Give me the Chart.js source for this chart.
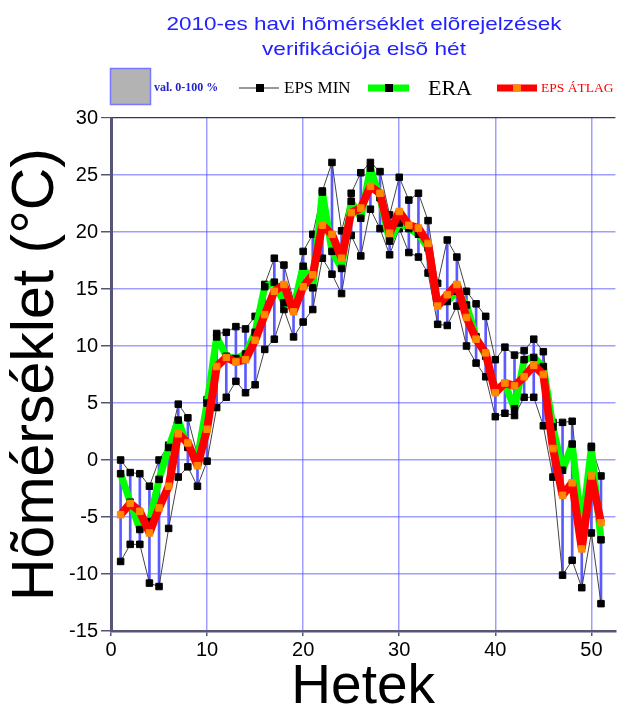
<!DOCTYPE html>
<html><head><meta charset="utf-8">
<script src="https://cdn.jsdelivr.net/npm/chart.js@4.4.1/dist/chart.umd.min.js"></script>
<style>html,body{margin:0;padding:0;background:#fff;overflow:hidden}#wrap{width:621px;height:711px;position:relative}</style>
</head><body><div id="wrap"><canvas id="c" width="621" height="711"></canvas></div>
<script>
const weeks = [1,2,3,4,5,6,7,8,9,10,11,12,13,14,15,16,17,18,19,20,21,22,23,24,25,26,27,28,29,30,31,32,33,34,35,36,37,38,39,40,41,42,43,44,45,46,47,48,49,50,51];
const epsMax = [0.0,-1.1,-1.2,-2.3,0.0,1.3,4.9,3.7,0.4,5.3,11.1,11.2,11.7,11.5,12.6,15.4,17.7,17.1,14.0,18.3,19.8,23.6,26.1,20.1,23.4,25.2,26.1,25.3,21.5,24.8,22.8,23.4,21.0,15.5,19.3,17.8,14.8,13.7,12.6,8.8,9.9,9.2,9.6,10.6,9.5,3.3,3.3,3.4,-4.5,1.2,-1.4];
const epsMin = [-8.9,-7.4,-7.4,-10.8,-11.1,-6.0,-1.5,-0.6,-2.3,-0.1,4.6,5.5,6.9,5.9,6.6,9.7,10.6,13.2,10.8,12.1,13.2,17.7,16.3,14.6,19.7,17.9,22.0,20.3,18.0,20.3,18.2,17.8,16.4,11.9,11.8,13.5,10.0,8.5,7.3,3.8,4.1,3.9,5.5,5.5,3.0,-1.5,-10.1,-8.8,-11.2,-6.4,-12.6];
const eraValues = [-1.2,-3.7,-6.1,-5.4,-1.7,1.1,3.5,1.1,0.2,5.0,10.8,9.1,8.9,9.3,11.2,15.2,15.6,13.8,13.4,17.0,15.1,23.5,18.3,16.8,22.7,21.2,25.6,23.0,19.2,20.8,20.3,19.8,18.6,13.8,13.9,14.8,13.6,10.8,9.1,6.2,6.7,4.5,8.8,9.0,8.2,2.9,-0.9,1.4,-6.0,1.1,-7.0];
const epsMean = [-4.8,-3.8,-4.5,-6.4,-4.2,-2.3,2.3,1.5,-0.5,2.7,8.2,9.0,8.6,8.8,10.5,12.75,14.8,15.4,13.0,15.2,16.25,20.6,19.8,17.7,21.7,22.1,24.0,23.4,19.9,21.8,20.6,20.35,19.0,13.5,14.5,15.4,12.5,10.6,9.4,5.9,6.75,6.5,7.3,8.3,7.5,1.0,-3.1,-2.0,-7.8,-1.4,-5.5];
const xTickValues = [0,10,20,30,40,50];
const titleLines = ['2010-es havi hõmérséklet elõrejelzések','verifikációja elsõ hét'];
const legendLabels = ['val. 0-100 %','EPS MIN','ERA','EPS ÁTLAG'];
const xTitle = 'Hetek';
const yTitle = 'Hõmérséklet (°C)';

const pts = arr => weeks.map((w,i)=>({x:w,y:arr[i]}));
const rangeData = weeks.map((w,i)=>({x:w,y:[epsMin[i],epsMax[i]]}));

const gridCol = 'rgba(80,80,255,0.55)';

const deco = {
  id:'deco',
  afterDraw(chart){
    const ctx = chart.ctx;
    ctx.save();
    ctx.fillStyle = '#2222ff';
    ctx.font = '19px "Liberation Sans", Arial, sans-serif';
    ctx.textBaseline = 'middle';
    ctx.textAlign = 'center';
    const tw = [395, 204];
    const ty = [25, 50];
    titleLines.forEach((t,i)=>{
      const m = ctx.measureText(t).width;
      const s = tw[i]/m;
      ctx.save();
      ctx.translate(364, ty[i]);
      ctx.scale(s,1);
      ctx.fillText(t,0,0);
      ctx.restore();
    });
    const ly = 88;
    ctx.fillStyle = '#b3b3b3';
    ctx.fillRect(110,68,40,36);
    ctx.strokeStyle = '#7777ff';
    ctx.lineWidth = 1.5;
    ctx.strokeRect(110.5,68.5,40,36);
    ctx.textAlign = 'left';
    ctx.fillStyle = '#2222cc';
    ctx.font = 'bold 12px "Liberation Serif", serif';
    ctx.fillText(legendLabels[0], 154, ly);
    ctx.strokeStyle = '#999999'; ctx.lineWidth = 2;
    ctx.beginPath(); ctx.moveTo(239,ly); ctx.lineTo(279,ly); ctx.stroke();
    ctx.fillStyle = '#000'; ctx.fillRect(256,ly-4,8,8);
    ctx.font = '17px "Liberation Serif", serif';
    ctx.fillText(legendLabels[1], 284, ly+1);
    ctx.strokeStyle = '#00ff00'; ctx.lineWidth = 7;
    ctx.beginPath(); ctx.moveTo(368,ly); ctx.lineTo(409,ly); ctx.stroke();
    ctx.fillStyle = '#000'; ctx.fillRect(385,ly-4,8,8);
    ctx.font = '22px "Liberation Serif", serif';
    ctx.fillText(legendLabels[2], 428, ly+1);
    ctx.strokeStyle = '#ff0000'; ctx.lineWidth = 7;
    ctx.beginPath(); ctx.moveTo(497,ly); ctx.lineTo(537,ly); ctx.stroke();
    ctx.fillStyle = '#ff8800'; ctx.fillRect(513,ly-3.5,8,7);
    ctx.fillStyle = '#ff0000';
    ctx.font = '13.5px "Liberation Serif", serif';
    ctx.fillText(legendLabels[3], 541, ly);
    ctx.restore();
  }
};

new Chart(document.getElementById('c'), {
  type:'line',
  data:{
    datasets:[
      {label:'EPS ÁTLAG', data:pts(epsMean), borderColor:'#ff0000', borderWidth:8, pointStyle:'rect', pointRadius:4.6, pointBackgroundColor:'#ff8800', pointBorderColor:'#ff8800', pointBorderWidth:1, tension:0, borderJoinStyle:'bevel', order:0},
      {label:'ERA', data:pts(eraValues), borderColor:'#00ff00', borderWidth:7, pointStyle:'rect', pointRadius:4.6, pointBackgroundColor:'#000', pointBorderColor:'#000', pointBorderWidth:1, tension:0, borderJoinStyle:'bevel', order:1},
      {label:'EPS MIN', data:pts(epsMin), borderColor:'#444444', borderWidth:1, pointStyle:'rect', pointRadius:4.6, pointBackgroundColor:'#000', pointBorderColor:'#000', pointBorderWidth:1, tension:0, order:2},
      {label:'EPS MAX', data:pts(epsMax), borderColor:'#444444', borderWidth:1, pointStyle:'rect', pointRadius:4.6, pointBackgroundColor:'#000', pointBorderColor:'#000', pointBorderWidth:1, tension:0, order:3},
      {type:'bar', label:'val. 0-100 %', data:rangeData, backgroundColor:'#5a5aff', borderWidth:0, barThickness:2, grouped:false, order:4}
    ]
  },
  options:{
    responsive:false, animation:false, devicePixelRatio:1, events:[],
    layout:{padding:{top:118,left:0,right:0,bottom:0}},
    plugins:{legend:{display:false}, title:{display:false}, tooltip:{enabled:false}},
    scales:{
      x:{
        type:'linear', min:0, max:52.5, offset:false,
        afterBuildTicks: ax => { ax.ticks = xTickValues.map(v=>({value:v})); },
        afterFit: s => { s.height = 80; },
        grid:{offset:false, color: c => (c.tick && c.tick.value===0) ? 'rgba(0,0,0,0)' : gridCol, lineWidth:1.5, tickLength:5, tickColor:'#555577'},
        border:{display:true, color:'#555577', width:2.5},
        ticks:{color:'#000', font:{family:'"Liberation Sans", Arial, sans-serif', size:20}, padding:2, maxRotation:0, autoSkip:false},
        title:{display:true, text:xTitle, color:'#000', font:{family:'"Liberation Sans", Arial, sans-serif', size:55, lineHeight:0.83}, padding:0}
      },
      y:{
        type:'linear', min:-15, max:30,
        afterFit: s => { s.width = 111; },
        grid:{color: c => (c.tick && c.tick.value===30) ? '#333366' : ((c.tick && c.tick.value===-15) ? 'rgba(0,0,0,0)' : gridCol), lineWidth: c => (c.tick && c.tick.value===30) ? 1.2 : 1.5, tickLength:10, tickColor:'#555577'},
        border:{display:true, color:'#555577', width:3},
        ticks:{stepSize:5, color:'#000', font:{family:'"Liberation Sans", Arial, sans-serif', size:20}, padding:3},
        title:{display:true, text:yTitle, color:'#000', font:{family:'"Liberation Sans", Arial, sans-serif', size:59, lineHeight:1}, padding:{top:7.5, bottom:0}}
      }
    }
  },
  plugins:[deco]
});
</script></body></html>
